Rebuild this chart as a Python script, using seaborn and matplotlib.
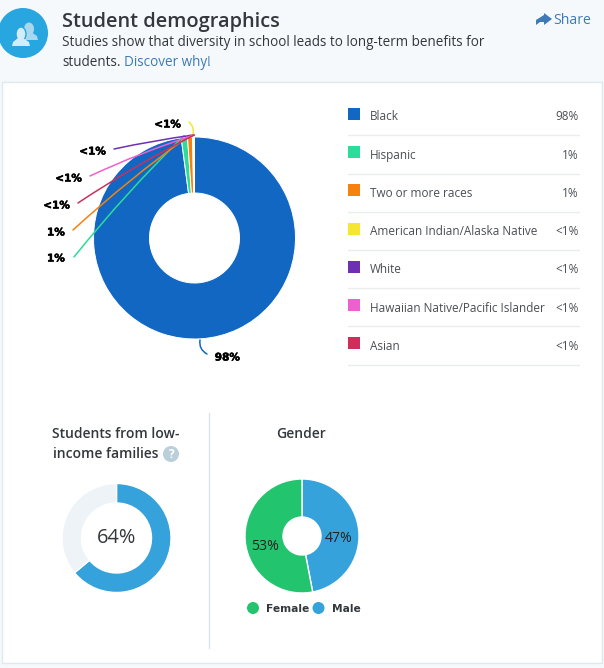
import numpy as np
import matplotlib.pyplot as plt
import matplotlib.patheffects as pe
from matplotlib.patches import Circle, Rectangle, Ellipse, Polygon
import seaborn as sns

H = 668
PAGE = "#f5f9fb"
TEXT = "#4a4f55"
DARK = "#33383d"
LINK = "#3d7ab8"
BLUE = "#35a2dc"

# race breakdown, clockwise from 12 o'clock
races = ["Black", "Hispanic", "Two or more races", "American Indian/Alaska Native",
         "White", "Hawaiian Native/Pacific Islander", "Asian"]
race_vals = [97.9, 1.0, 0.8, 0.1, 0.1, 0.05, 0.05]
race_txt = ["98%", "1%", "1%", "<1%", "<1%", "<1%", "<1%"]
race_cols = sns.color_palette(["#1167c2", "#2bdc9b", "#f5820f", "#f4e631",
                               "#6f2fb3", "#f05fcf", "#cc2f5a"])

# outside labels, same order as races: text x (right edge), text y, line start x, line start y, curve
callouts = [(240, 357.5, 200, 340, 0.35),
            (65, 258.5, 74, 257, -0.03),
            (65, 232.5, 73, 230, -0.03),
            (181, 124.5, 189, 122, -0.3),
            (106, 151.5, 114, 149, -0.02),
            (82, 178.5, 90, 176, -0.03),
            (70, 205.5, 78, 203, -0.03)]

income = [64, 36]
gender = {"Male": 47, "Female": 53}

sns.set_theme(style="white")
plt.rcParams["font.family"] = ["Open Sans", "DejaVu Sans"]


def px(size):
    return size * 0.72


def Y(y):
    return H - y


def donut(ax, vals, cols, cx, cy, r, hole, edge=1.0):
    wedges, _ = ax.pie(vals, colors=cols, startangle=90, counterclock=False,
                       center=(cx, Y(cy)), radius=r, frame=True,
                       wedgeprops=dict(width=r - hole, edgecolor="white", linewidth=edge))
    return wedges


fig = plt.figure(figsize=(6.04, 6.68), dpi=100, facecolor=PAGE)
ax = fig.add_axes([0, 0, 1, 1])
ax.set_facecolor(PAGE)

# header
ax.add_patch(Circle((23, Y(33)), 25, color="#27a6e0", lw=0))
ax.add_patch(Ellipse((29, Y(29)), 10, 13, color="#a8d8f0", lw=0))
ax.add_patch(Polygon([(21, Y(40)), (38, Y(40)), (37, Y(36)), (31, Y(32)), (26, Y(33))],
                     color="#a8d8f0", lw=0))
ax.add_patch(Ellipse((21, Y(34)), 10, 14, color="#d2ecf8", ec="#27a6e0", lw=1))
ax.add_patch(Polygon([(12, Y(46)), (30, Y(46)), (29, Y(42)), (23, Y(38)), (18, Y(38)), (13, Y(42))],
                     color="#d2ecf8", lw=0))
ax.text(62, Y(21.5), "Student demographics", fontsize=px(20), fontweight="semibold",
        color=DARK, va="center")
ax.text(62, Y(42.5), "Studies show that diversity in school leads to long-term benefits for",
        fontsize=px(13.5), color=DARK, va="center")
ax.text(62, Y(62.5), "students.", fontsize=px(13.5), color=DARK, va="center")
ax.text(124, Y(62.5), "Discover why!", fontsize=px(13.5), color=LINK, va="center")
ax.text(591, Y(20), "Share", fontsize=px(14), color=LINK, va="center", ha="right")
ax.add_patch(Polygon([(536, Y(20)), (544, Y(15)), (544, Y(13)), (552, Y(19)), (544, Y(25)), (544, Y(22)),
                      (540, Y(22)), (536, Y(25))], color=LINK, lw=0))

# white panel
ax.add_patch(Rectangle((2, Y(663)), 600, 581, fc="white", ec="#dfe9ee", lw=1))

# main donut
wedges = donut(ax, race_vals, race_cols, 194.5, 238, 101, 45, edge=0.7)
cum = np.cumsum([0] + race_vals)
for i, (tx, ty, lx, ly, rad) in enumerate(callouts):
    ang = np.deg2rad((cum[i] + cum[i + 1]) / 2 * 3.6)
    # the first line leaves the ring where the slice middle is, the rest meet near the top
    end_r = 103
    ex = 194.5 + end_r * np.sin(ang)
    ey = 238 - end_r * np.cos(ang)
    if i == 0:
        ex, ey = 207, 354
    ax.annotate("", xy=(ex, Y(ey)), xytext=(lx, Y(ly)),
                arrowprops=dict(arrowstyle="-", color=race_cols[i], lw=1.1,
                                connectionstyle=f"arc3,rad={rad}", shrinkA=0, shrinkB=0))
    t = ax.text(tx, Y(ty), race_txt[i], fontsize=px(10.5), fontweight="bold", color="black",
                family="DejaVu Sans", ha="right", va="center")
    t.set_path_effects([pe.withStroke(linewidth=0.4, foreground="black")])

# legend table
for i, name in enumerate(races):
    y = 116 + i * 38.2
    ax.add_patch(Rectangle((348, Y(y - 8 + 12)), 12, 12, color=race_cols[i], lw=0))
    ax.text(369.5, Y(y + 1), name, fontsize=px(11.7), color=TEXT, va="center")
    ax.text(579, Y(y + 1), race_txt[i], fontsize=px(11.7), color=TEXT, va="center", ha="right")
    ax.plot([348, 579], [Y(y + 19.3)] * 2, color="#eaeced", lw=1)

# low income donut
ax.text(115.5, Y(433.5), "Students from low-", fontsize=px(13.9), fontweight="semibold",
        color=DARK, ha="center", va="center")
ax.text(106, Y(453.5), "income families", fontsize=px(13.9), fontweight="semibold",
        color=DARK, ha="center", va="center")
ax.add_patch(Circle((171, Y(454)), 8, color="#b9cfd9", lw=0))
ax.text(171, Y(454), "?", fontsize=px(12), fontweight="bold", color="white", ha="center", va="center")
donut(ax, income, [BLUE, "#edf3f6"], 116.5, 538, 54.5, 35)
ax.text(116.5, Y(538), f"{income[0]}%", fontsize=px(20), color=DARK, ha="center", va="center")

ax.plot([208.5, 208.5], [Y(413), Y(648)], color="#dde3ec", lw=1)

# gender donut
ax.text(301, Y(433.5), "Gender", fontsize=px(13.9), fontweight="semibold", color=DARK,
        ha="center", va="center")
donut(ax, list(gender.values()), [BLUE, "#23c46e"], 302, 536, 57, 19)
ax.text(339, Y(539), f"{gender['Male']}%", fontsize=px(14), color="#222222", ha="center", va="center")
ax.text(265, Y(546), f"{gender['Female']}%", fontsize=px(14), color="#222222", ha="center", va="center")
ax.add_patch(Circle((253, Y(608)), 6, color="#23c46e", lw=0))
ax.text(266, Y(608.5), "Female", fontsize=px(10.6), fontweight="bold", color=DARK,
        family="DejaVu Sans", va="center")
ax.add_patch(Circle((318.5, Y(608)), 6, color=BLUE, lw=0))
ax.text(332, Y(608.5), "Male", fontsize=px(10.6), fontweight="bold", color=DARK,
        family="DejaVu Sans", va="center")

ax.set_xlim(0, 604)
ax.set_ylim(0, H)
ax.set_aspect("equal")
ax.set_xticks([])
ax.set_yticks([])
ax.grid(False)
sns.despine(ax=ax, left=True, bottom=True)

fig.savefig("out.png", dpi=100, facecolor=PAGE)
